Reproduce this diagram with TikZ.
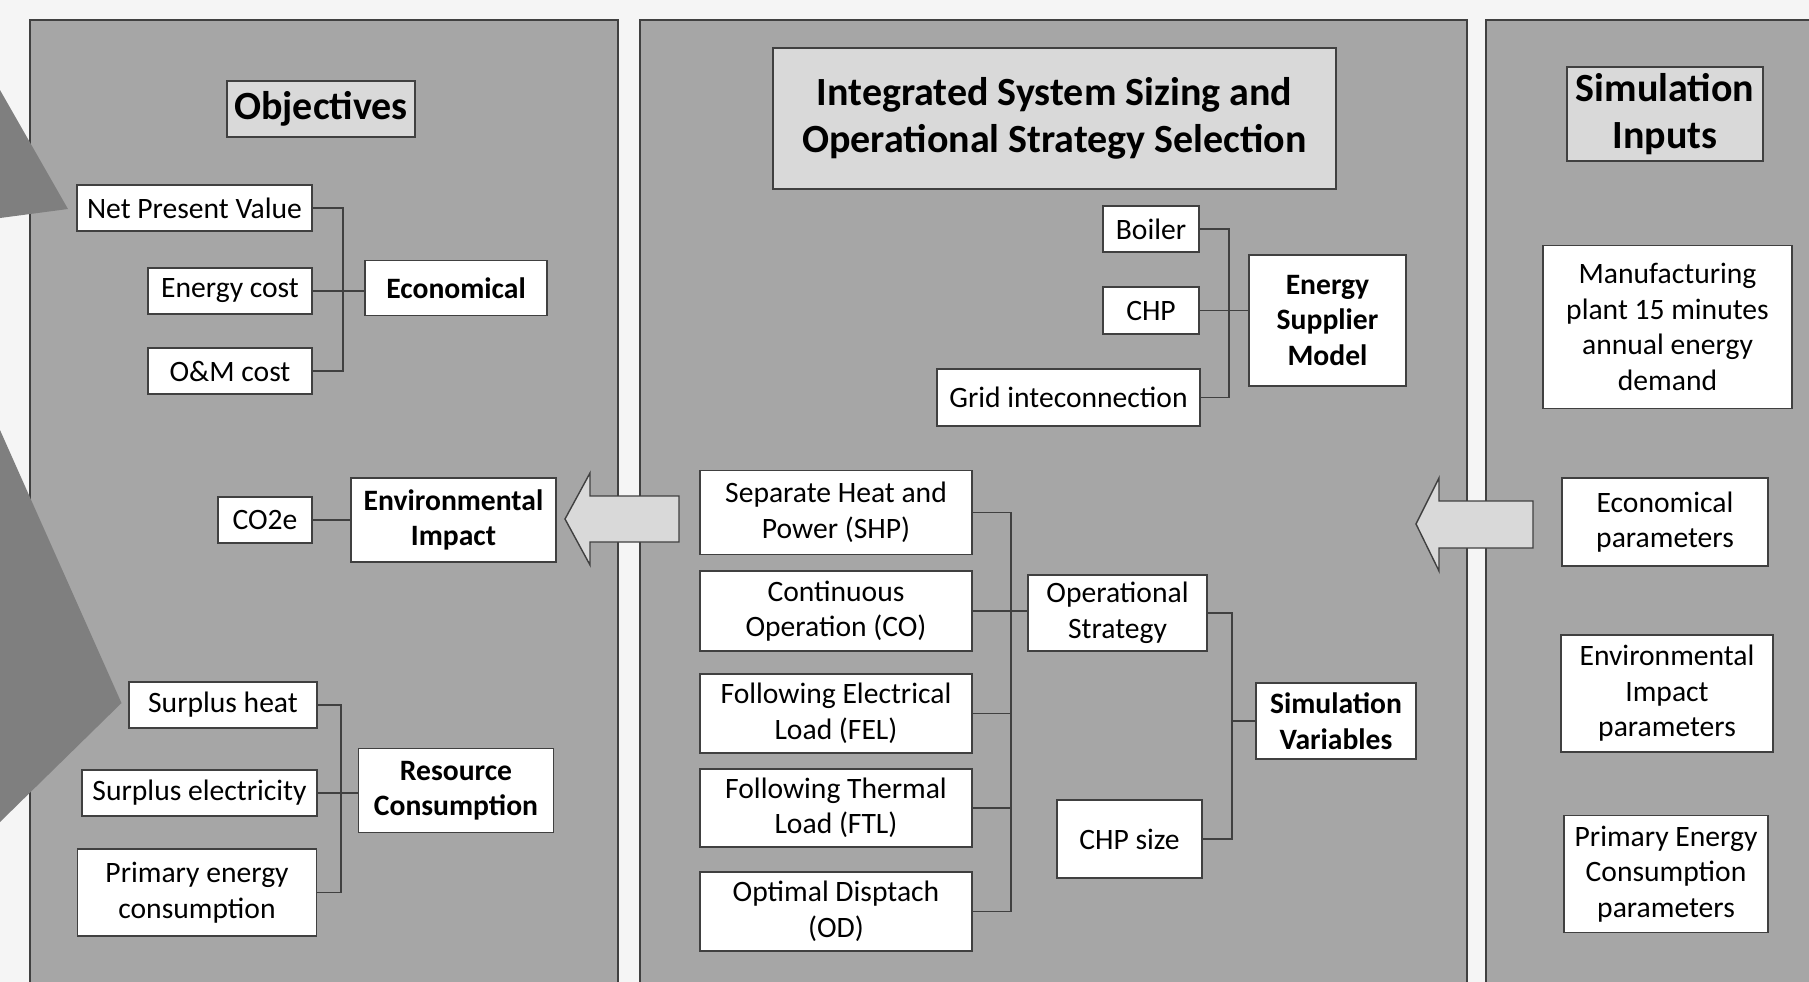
\documentclass[tikz,border=0pt]{standalone}
\usepackage{fontspec}
\setmainfont{Carlito}
\definecolor{bggrey}{RGB}{245,245,245}
\definecolor{panelgrey}{RGB}{166,166,166}
\definecolor{titlegrey}{RGB}{217,217,217}
\definecolor{darkgrey}{RGB}{127,127,127}
\definecolor{lineclr}{RGB}{64,64,64}

\begin{document}
\begin{tikzpicture}[
    x=1pt, y=-1pt,
    panel/.style={
      fill=panelgrey,
      draw=lineclr,
      line width=1.3pt,
    },
    box/.style={
      draw=lineclr,
      fill=white,
      line width=1.4pt,
      align=center,
      inner sep=0pt,
      font=\fontsize{29.6}{35.5}\selectfont,
    },
    headbox/.style={
      box,
      font=\fontsize{29.6}{35.5}\selectfont\bfseries,
    },
    titlebox/.style={
      box,
      fill=titlegrey,
      font=\fontsize{40}{47}\selectfont\bfseries,
    },
    link/.style={
      draw=lineclr,
      line width=1.5pt,
    },
    blockarrow/.style={
      fill=titlegrey,
      draw=lineclr,
      line width=1.4pt,
    },
  ]
  \useasboundingbox (0,0) rectangle (1809,982);
  \clip (0,0) rectangle (1809,982);
  \fill[bggrey] (0,0) rectangle (1809,982);

  \draw[panel] (30,20) rectangle (618,1000);
  \draw[panel] (640,20) rectangle (1467,1000);
  \draw[panel] (1486,20) rectangle (1830,1000);

  \fill[darkgrey] (0,90) -- (68,209) -- (0,218) -- cycle;
  \fill[darkgrey] (0,430) -- (121.5,703) -- (0,822) -- cycle;

  \node[titlebox, minimum width=188, minimum height=56] (obj) at (321,109) {Objectives};
  \node[box, minimum width=235, minimum height=46] (npv) at (194.5,208) {Net Present Value};
  \node[box, minimum width=164, minimum height=46] (ecost) at (230,291) {Energy cost};
  \node[box, minimum width=164, minimum height=46] (omcost) at (230,371) {O\&M cost};
  \node[headbox, minimum width=182, minimum height=55] (econ) at (456,288) {Economical};
  \node[box, minimum width=94, minimum height=46] (co2) at (265,520) {CO2e};
  \node[headbox, minimum width=205, minimum height=84] (envimp) at (453.5,520) {Environmental\\Impact};
  \node[box, minimum width=188, minimum height=46] (sheat) at (223,705) {Surplus heat};
  \node[box, minimum width=235, minimum height=46] (selec) at (199.5,793) {Surplus electricity};
  \node[box, minimum width=239, minimum height=87] (primen) at (197,892.5) {Primary energy\\consumption};
  \node[headbox, minimum width=195, minimum height=84] (rescon) at (456,790.5) {Resource\\Consumption};

  \node[titlebox, minimum width=563, minimum height=141] (ists) at (1054.5,118.5) {Integrated System Sizing and\\Operational Strategy Selection};
  \node[box, minimum width=96, minimum height=46] (boiler) at (1151,229) {Boiler};
  \node[box, minimum width=96, minimum height=47] (chp) at (1151,310.5) {CHP};
  \node[box, minimum width=263, minimum height=57] (grid) at (1068.5,397.5) {Grid inteconnection};
  \node[headbox, minimum width=157, minimum height=131] (esm) at (1327.5,320.5) {Energy\\Supplier\\Model};
  \node[box, minimum width=272, minimum height=84] (shp) at (836,512.5) {Separate Heat and\\Power (SHP)};
  \node[box, minimum width=272, minimum height=80] (cop) at (836,611) {Continuous\\Operation (CO)};
  \node[box, minimum width=272, minimum height=79] (fel) at (836,713.5) {Following Electrical\\Load (FEL)};
  \node[box, minimum width=272, minimum height=78] (ftl) at (836,808) {Following Thermal\\Load (FTL)};
  \node[box, minimum width=272, minimum height=79] (odp) at (836,911.5) {Optimal Disptach\\(OD)};
  \node[box, minimum width=179, minimum height=76] (opstr) at (1117.5,613) {Operational\\Strategy};
  \node[box, minimum width=145, minimum height=78] (chpsize) at (1129.5,839) {CHP size};
  \node[headbox, minimum width=160, minimum height=76] (simvar) at (1336,721) {Simulation\\Variables};

  \node[titlebox, minimum width=196, minimum height=94] (siminp) at (1665,114) {Simulation\\Inputs};
  \node[box, minimum width=249, minimum height=163] (mfg) at (1667.5,327) {Manufacturing\\plant 15 minutes\\annual energy\\demand};
  \node[box, minimum width=206, minimum height=88] (ecopar) at (1665,522) {Economical\\parameters};
  \node[box, minimum width=212, minimum height=117] (envpar) at (1667,693.5) {Environmental\\Impact\\parameters};
  \node[box, minimum width=204, minimum height=117] (pecpar) at (1666,874) {Primary Energy\\Consumption\\parameters};

  \coordinate (ecobus) at (343,290);
  \coordinate (resbus) at (341,791);
  \coordinate (esmbus) at (1229,311);
  \coordinate (opbus) at (1011,612);
  \coordinate (svbus) at (1232,721);

  \draw[link]
      (npv.east) -| (ecobus) |- (omcost.east)
      (ecost.east) -- (ecost.east -| econ.west)
      (co2.east) -- (envimp.west)
      (sheat.east) -| (resbus) |- (primen.east)
      (selec.east) -- (selec.east -| rescon.west)

      (boiler.east) -| (esmbus) |- (grid.east)
      (chp.east) -- (chp.east -| esm.west)

      (shp.east) -| (opbus) |- (odp.east)
      (fel.east) -- (fel.east -| opbus)
      (ftl.east) -- (ftl.east -| opbus)
      (cop.east) -- (cop.east -| opstr.west)

      (opstr.east) -| (svbus) |- (chpsize.east)
      (svbus) -- (svbus -| simvar.west);

  \draw[blockarrow] (679,496) -- (590,496) -- (590,473) -- (565,519)
      -- (590,565) -- (590,542) -- (679,542) -- cycle;
  \draw[blockarrow] (1533,501) -- (1439,501) -- (1439,478) -- (1416,524)
      -- (1439,571) -- (1439,548) -- (1533,548) -- cycle;
\end{tikzpicture}
\end{document}
